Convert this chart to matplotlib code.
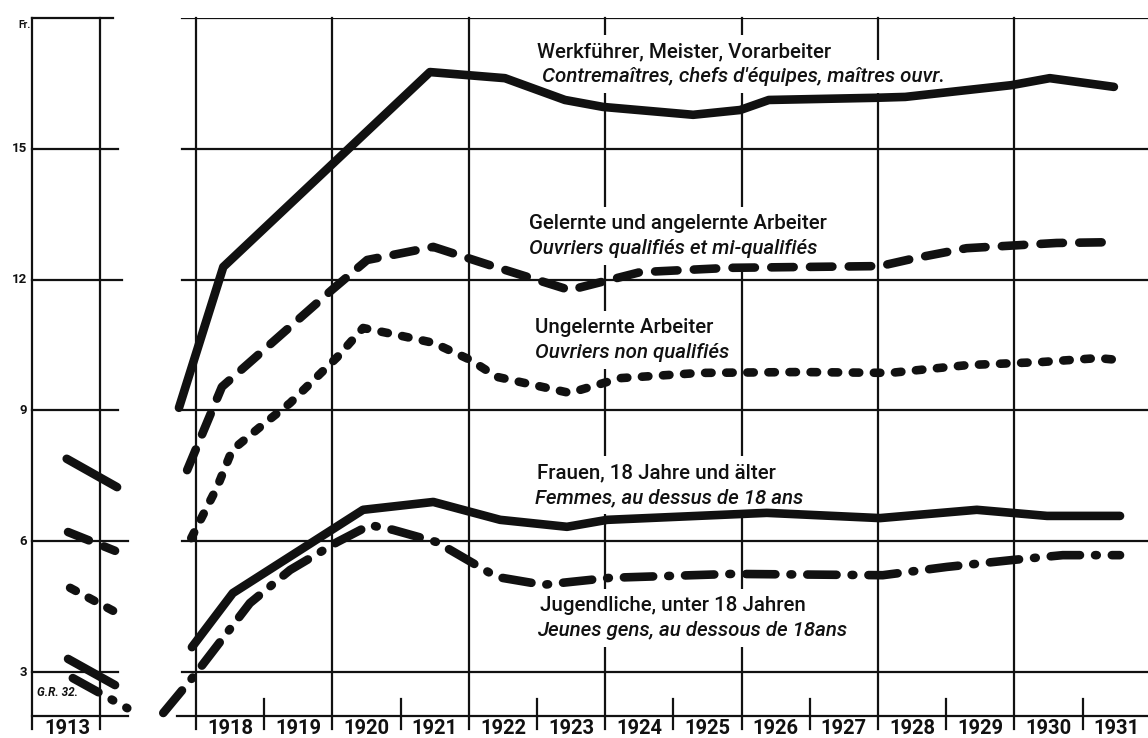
import matplotlib
matplotlib.use("Agg")
import matplotlib.pyplot as plt
from matplotlib.patches import Rectangle

# ---------------- data ----------------
y_ticks = [3, 6, 9, 12, 15]
y_tick_labels = ["3", "6", "9", "12", "15"]
years = list(range(1918, 1932))
year_labels = [str(y) for y in years]

# main panel (fractional years)
werk_x = [1917.75, 1918.40, 1921.43, 1922.53, 1923.41, 1923.97, 1925.29, 1925.98,
          1926.40, 1927.97, 1928.40, 1929.96, 1930.52, 1931.46]
werk_y = [9.06, 12.29, 16.76, 16.62, 16.12, 15.96, 15.78, 15.89,
          16.12, 16.17, 16.19, 16.46, 16.62, 16.42]

gel_x = [1917.87, 1918.38, 1919.99, 1920.51, 1921.48, 1922.31, 1923.48, 1924.51,
         1925.83, 1928.03, 1928.57, 1929.30, 1930.62, 1931.52]
gel_y = [7.63, 9.54, 11.76, 12.45, 12.75, 12.33, 11.76, 12.17,
         12.27, 12.31, 12.50, 12.72, 12.84, 12.86]

ung_x = [1917.93, 1918.31, 1918.53, 1918.94, 1919.38, 1920.07, 1920.45, 1920.95,
         1921.48, 1922.02, 1922.41, 1923.48, 1924.22, 1925.39, 1926.86, 1928.18,
         1929.32, 1930.40, 1931.23, 1931.50]
ung_y = [6.07, 7.24, 8.09, 8.62, 9.17, 10.22, 10.89, 10.73,
         10.55, 10.16, 9.77, 9.40, 9.74, 9.86, 9.88, 9.86,
         10.04, 10.11, 10.20, 10.16]

frau_x = [1917.94, 1918.54, 1920.45, 1921.48, 1922.46, 1923.44, 1924.03, 1926.37,
          1928.03, 1929.45, 1930.48, 1931.55]
frau_y = [3.57, 4.81, 6.72, 6.90, 6.49, 6.33, 6.49, 6.65,
          6.53, 6.72, 6.58, 6.58]

jug_x = [1917.52, 1917.96, 1918.79, 1919.38, 1920.07, 1920.55, 1920.89, 1921.53,
         1922.41, 1923.09, 1924.07, 1925.87, 1928.07, 1929.01, 1929.98, 1930.71,
         1931.55]
jug_y = [2.06, 2.89, 4.58, 5.34, 5.98, 6.37, 6.26, 5.98,
         5.18, 5.00, 5.16, 5.25, 5.22, 5.41, 5.57, 5.68,
         5.68]

# 1913 panel
werk13_x, werk13_y = [1913.51, 1914.25], [7.89, 7.24]
gel13_x, gel13_y = [1913.53, 1914.22], [6.21, 5.78]
ung13_x, ung13_y = [1913.56, 1914.22], [4.93, 4.38]
frau13_x, frau13_y = [1913.53, 1914.22], [3.30, 2.70]
jug13_x, jug13_y = [1913.60, 1914.40], [2.86, 2.17]

labels_de = ["Werkführer, Meister, Vorarbeiter",
             "Gelernte und angelernte Arbeiter",
             "Ungelernte Arbeiter",
             "Frauen, 18 Jahre und älter",
             "Jugendliche, unter 18 Jahren"]
labels_fr = ["Contremaîtres, chefs d'équipes, maîtres ouvr.",
             "Ouvriers qualifiés et mi-qualifiés",
             "Ouvriers non qualifiés",
             "Femmes, au dessus de 18 ans",
             "Jeunes gens, au dessous de 18ans"]

# ---------------- figure ----------------
W, H = 1148, 738
fig = plt.figure(figsize=(W / 100, H / 100), dpi=100)
fig.patch.set_facecolor("white")
INK = "#111111"
FONT = "Roboto"

bottom = 1 - 715.6 / H
height = (715.6 - 18) / H
ax_l = fig.add_axes([32 / W, bottom, 98 / W, height])
ax_m = fig.add_axes([148 / W, bottom, 1000 / W, height])
for ax in (ax_l, ax_m):
    ax.set_ylim(2, 18)
    ax.axis("off")
ax_l.set_xlim(1913, 1914.44)
ax_m.set_xlim(1917.296, 1931.96)

GL = 1.6
# ---- left panel grid ----
ax_l.plot([1913, 1913], [1.7, 18], color=INK, lw=GL, clip_on=False, zorder=1)
ax_l.plot([1914, 1914], [1.7, 18], color=INK, lw=GL, clip_on=False, zorder=1)
for v, xe in zip([2] + y_ticks + [18], [1914.41, 1914.26, 1914.41, 1914.26, 1914.32, 1914.26, 1914.19]):
    ax_l.plot([1913, xe], [v, v], color=INK, lw=GL, clip_on=False, zorder=1)
for v, lab in zip(y_ticks, y_tick_labels):
    ax_l.text(1912.93, v, lab, ha="right", va="center", fontsize=9.5,
              fontweight="bold", family=FONT, color=INK, clip_on=False)
ax_l.text(1912.98, 17.85, "Fr.", ha="right", va="center", fontsize=7.5,
          fontweight="bold", family=FONT, color=INK, clip_on=False)
ax_l.text(1913.07, 2.52, "G.R. 32.", ha="left", va="center", fontsize=8.5,
          fontweight="bold", style="italic", family=FONT, color=INK)
fig.text(67 / W, 1 - 729 / H, "1913", ha="center", va="center", fontsize=14.5,
         fontweight="bold", family=FONT, color=INK)

# ---- main panel grid ----
for v in y_ticks + [18]:
    ax_m.plot([1917.79, 1932], [v, v], color=INK, lw=GL, zorder=1, clip_on=True)
ax_m.plot([1917.72, 1932], [2, 2], color=INK, lw=GL, zorder=1, clip_on=False)
for yr in years:
    if (yr - 1918) % 2 == 0:
        ax_m.plot([yr, yr], [1.7, 18], color=INK, lw=GL, zorder=1, clip_on=False)
    else:
        ax_m.plot([yr, yr], [1.7, 2.37], color=INK, lw=GL, zorder=1, clip_on=False)
    fig.text((196 + (yr - 1918 + 0.5) * 68.2) / W, 1 - 729 / H, str(yr),
             ha="center", va="center", fontsize=14.5, fontweight="bold",
             family=FONT, color=INK)

# ---- series ----
LW = 6.2
styles = [
    dict(linestyle="-"),
    dict(dashes=(2.6, 1.9)),
    dict(dashes=(0.75, 1.7)),
    dict(linestyle="-"),
    dict(dashes=(3.4, 1.75, 0.2, 1.75)),
]
main_series = [(werk_x, werk_y), (gel_x, gel_y), (ung_x, ung_y), (frau_x, frau_y), (jug_x, jug_y)]
s13 = [(werk13_x, werk13_y), (gel13_x, gel13_y), (ung13_x, ung13_y), (frau13_x, frau13_y), (jug13_x, jug13_y)]
for (xs, ys), st in zip(main_series, styles):
    ax_m.plot(xs, ys, color=INK, lw=LW, solid_capstyle="round", dash_capstyle="round",
              solid_joinstyle="round", dash_joinstyle="round", zorder=5, clip_on=False, **st)
for (xs, ys), st in zip(s13, styles):
    ax_l.plot(xs, ys, color=INK, lw=LW, solid_capstyle="round", dash_capstyle="round",
              solid_joinstyle="round", dash_joinstyle="round", zorder=5, clip_on=False, **st)

# ---- labels ----
de_pos = [(1923.0, 17.10), (1922.88, 13.15), (1922.97, 10.77), (1923.0, 7.44), (1923.05, 4.40)]
fr_pos = [(1923.07, 16.53), (1922.88, 12.58), (1922.97, 10.20), (1922.97, 6.87), (1923.0, 3.83)]
FS = 14.8
label_texts = []
for labs, poss, sty in ((labels_de, de_pos, "normal"), (labels_fr, fr_pos, "italic")):
    for lab, (x, y) in zip(labs, poss):
        t = ax_m.text(x, y, lab, ha="left", va="baseline", fontsize=FS, family=FONT,
                      style=sty, fontweight="medium", color=INK, zorder=4)
        label_texts.append(t)

# white knock-outs behind lettering (the grid is interrupted around the labels)
fig.canvas.draw()
r = fig.canvas.get_renderer()
inv = ax_m.transData.inverted()
PAD = 7
for t in label_texts:
    bb = t.get_window_extent(r)
    (x0, y0) = inv.transform((bb.x0 - PAD, bb.y0 - PAD))
    (x1, y1) = inv.transform((bb.x1 + PAD, bb.y1 + PAD))
    ax_m.add_patch(Rectangle((x0, y0), x1 - x0, y1 - y0, facecolor="white",
                             edgecolor="none", zorder=2))

fig.savefig("out.png", dpi=100, facecolor="white")
